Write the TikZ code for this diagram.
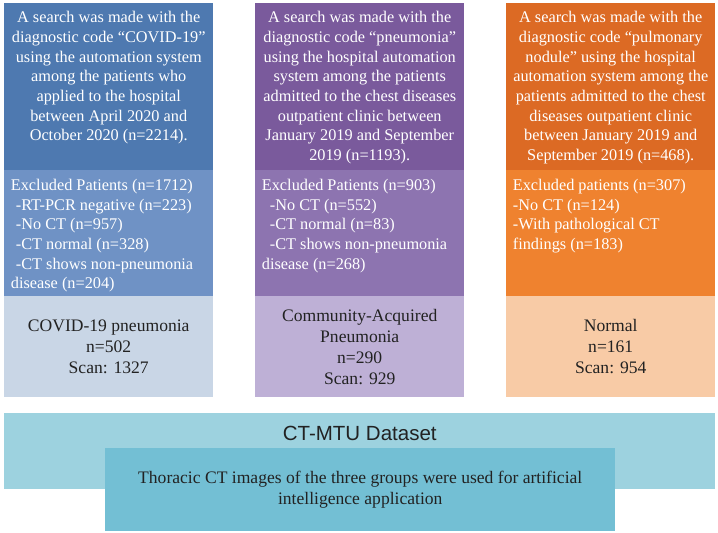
\documentclass[tikz,border=0pt]{standalone}
\usepackage{fontspec}
\setmainfont{Liberation Serif}
\newfontfamily\arialfont{Liberation Sans}
\usetikzlibrary{positioning}

\definecolor{blueA}{HTML}{4E79B0}
\definecolor{blueB}{HTML}{6F92C5}
\definecolor{blueC}{HTML}{C9D6E6}
\definecolor{purpleA}{HTML}{7A5A9C}
\definecolor{purpleB}{HTML}{8D74B0}
\definecolor{purpleC}{HTML}{BEB0D6}
\definecolor{orangeA}{HTML}{DC6A24}
\definecolor{orangeB}{HTML}{EF822F}
\definecolor{orangeC}{HTML}{F8CBA6}
\definecolor{tealA}{HTML}{9DD2DF}
\definecolor{tealB}{HTML}{73BFD4}
\definecolor{darktext}{HTML}{222222}

\tikzset{
  box/.style={rectangle, anchor=north west, inner sep=0pt, minimum width=6.27cm},
  txt/.style={inner sep=0pt, font=\fontsize{13.9}{16.8}\selectfont},
  toptext/.style={txt, text=white, align=center},
  midtext/.style={txt, text=white, align=left},
  grouptext/.style={inner sep=0pt, font=\fontsize{15}{18}\selectfont, text=darktext, align=center}
}

\begin{document}
\begin{tikzpicture}
  [x=0.03cm, y=-0.03cm]
  \useasboundingbox (0,0) rectangle (718,533);

  % search step
  \node[box, fill=blueA, minimum height=5.01cm] (cov1) at (4, 3) {};
  \node[box, fill=purpleA, minimum height=5.01cm] (cap1) at (255, 3) {};
  \node[box, fill=orangeA, minimum height=5.01cm] (nor1) at (506, 3) {};

  % exclusions
  \node[box, fill=blueB, minimum height=3.78cm] (cov2) at (4, 170) {};
  \node[box, fill=purpleB, minimum height=3.78cm] (cap2) at (255, 170) {};
  \node[box, fill=orangeB, minimum height=3.78cm] (nor2) at (506, 170) {};

  % final groups
  \node[box, fill=blueC, minimum height=3.03cm] (cov3) at (4, 296) {};
  \node[box, fill=purpleC, minimum height=3.03cm] (cap3) at (255, 296) {};
  \node[box, fill=orangeC, minimum height=3.03cm] (nor3) at (506, 296) {};

  % dataset
  \node[box, fill=tealA, minimum width=21.33cm, minimum height=2.28cm] (data) at (4, 413) {};
  \node[box, fill=tealB, minimum width=15.3cm, minimum height=2.49cm] (use) at (105, 448) {};

  \node[toptext, below=0.25cm of cov1.north] (cov1t) {A search was made with the\\
    diagnostic code “COVID-19”\\ using the automation system\\ among the patients who\\
    applied to the hospital\\ between April 2020 and\\ October 2020 (n=2214).};
  \node[toptext, below=0.25cm of cap1.north] (cap1t) {A search was made with the\\
    diagnostic code “pneumonia”\\ using the hospital automation\\ system among the patients\\
    admitted to the chest diseases\\ outpatient clinic between\\ January 2019 and September\\
    2019 (n=1193).};
  \node[toptext, below=0.25cm of nor1.north] (nor1t) {A search was made with the\\
    diagnostic code “pulmonary\\ nodule” using the hospital\\ automation system among the\\
    patients admitted to the chest\\ diseases outpatient clinic\\ between January 2019 and\\
    September 2019 (n=468).};

  \node[midtext, below right=0.27cm and 0.2cm of cov2.north west] (cov2t) {Excluded Patients (n=1712)\\
    \hspace{0.15cm}-RT-PCR negative (n=223)\\ \hspace{0.15cm}-No CT (n=957)\\
    \hspace{0.15cm}-CT normal (n=328)\\ \hspace{0.15cm}-CT shows non-pneumonia\\ disease (n=204)};
  \node[midtext, below right=0.27cm and 0.2cm of cap2.north west] (cap2t) {Excluded Patients (n=903)\\
    \hspace{0.24cm}-No CT (n=552)\\ \hspace{0.24cm}-CT normal (n=83)\\
    \hspace{0.24cm}-CT shows non-pneumonia\\ disease (n=268)};
  \node[midtext, below right=0.27cm and 0.2cm of nor2.north west] (nor2t) {Excluded patients (n=307)\\
    -No CT (n=124)\\ -With pathological CT\\ findings (n=183)};

  \node[grouptext] (cov3t) at (cov3) {COVID-19 pneumonia\\ n=502\\ Scan: 1327};
  \node[grouptext] (cap3t) at (cap3) {Community-Acquired\\ Pneumonia\\ n=290\\ Scan: 929};
  \node[grouptext] (nor3t) at (nor3) {Normal\\ n=161\\ Scan: 954};

  \node[txt, below=0.38cm of data.north, font=\arialfont\fontsize{17.5}{20}\selectfont, text=darktext] (datat) {CT-MTU Dataset};
  \node[grouptext, font=\fontsize{15}{18.7}\selectfont] (uset) at (use) {Thoracic CT images of the three groups were used for artificial\\ intelligence application};

\end{tikzpicture}
\end{document}
